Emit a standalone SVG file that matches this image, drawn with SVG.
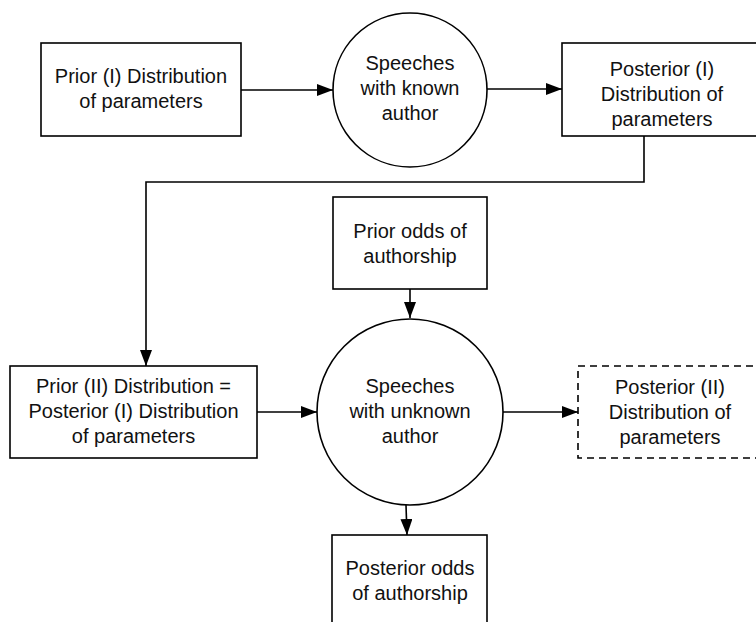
<svg xmlns="http://www.w3.org/2000/svg" width="756" height="622" viewBox="0 0 756 622">
  <defs>
    <marker id="arrow" markerUnits="userSpaceOnUse" markerWidth="18" markerHeight="13" refX="16" refY="6" orient="auto">
      <path d="M0,0 L16,6 L0,12 z" fill="#000"/>
    </marker>
    <style>
      .shape { fill: #fff; stroke: #000; stroke-width: 1.6; }
      .dashed { stroke-dasharray: 7 5; }
      .edge { fill: none; stroke: #000; stroke-width: 1.6; marker-end: url(#arrow); }
      text { font-family: "Liberation Sans", Helvetica, Arial, sans-serif; font-size: 20px; fill: #111; text-anchor: middle; }
    </style>
  </defs>
  <rect width="756" height="622" fill="#fff"/>

  <g id="connectors">
    <line class="edge" x1="241" y1="90" x2="333" y2="90"/>
    <line class="edge" x1="486" y1="89" x2="562" y2="89"/>
    <path class="edge" d="M644,136 V182 H146 V366"/>
    <line class="edge" x1="410" y1="289" x2="410" y2="318"/>
    <line class="edge" x1="257" y1="412" x2="317" y2="412"/>
    <line class="edge" x1="502" y1="412" x2="578" y2="412"/>
    <line class="edge" x1="406" y1="505" x2="407" y2="535"/>
  </g>

  <g id="prior1">
    <rect class="shape" x="41" y="43" width="200" height="93"/>
    <text x="141" y="83">Prior (I) Distribution</text>
    <text x="141" y="108">of parameters</text>
  </g>

  <g id="speeches-known">
    <circle class="shape" cx="410" cy="90" r="77"/>
    <text x="410" y="70">Speeches</text>
    <text x="410" y="95">with known</text>
    <text x="410" y="120">author</text>
  </g>

  <g id="posterior1">
    <rect class="shape" x="562" y="43" width="200" height="93"/>
    <text x="662" y="76">Posterior (I)</text>
    <text x="662" y="101">Distribution of</text>
    <text x="662" y="126">parameters</text>
  </g>

  <g id="prior-odds">
    <rect class="shape" x="333" y="197" width="154" height="92"/>
    <text x="410" y="238">Prior odds of</text>
    <text x="410" y="263">authorship</text>
  </g>

  <g id="prior2">
    <rect class="shape" x="10" y="366" width="247" height="92"/>
    <text x="133.5" y="393">Prior (II) Distribution =</text>
    <text x="133.5" y="418">Posterior (I) Distribution</text>
    <text x="133.5" y="443">of parameters</text>
  </g>

  <g id="speeches-unknown">
    <circle class="shape" cx="410" cy="412" r="93"/>
    <text x="410" y="393">Speeches</text>
    <text x="410" y="418">with unknown</text>
    <text x="410" y="443">author</text>
  </g>

  <g id="posterior2">
    <rect class="shape dashed" x="578" y="366" width="190" height="92"/>
    <text x="670" y="394">Posterior (II)</text>
    <text x="670" y="419">Distribution of</text>
    <text x="670" y="444">parameters</text>
  </g>

  <g id="posterior-odds">
    <rect class="shape" x="332" y="535" width="155" height="100"/>
    <text x="410" y="575">Posterior odds</text>
    <text x="410" y="600">of authorship</text>
  </g>
</svg>
